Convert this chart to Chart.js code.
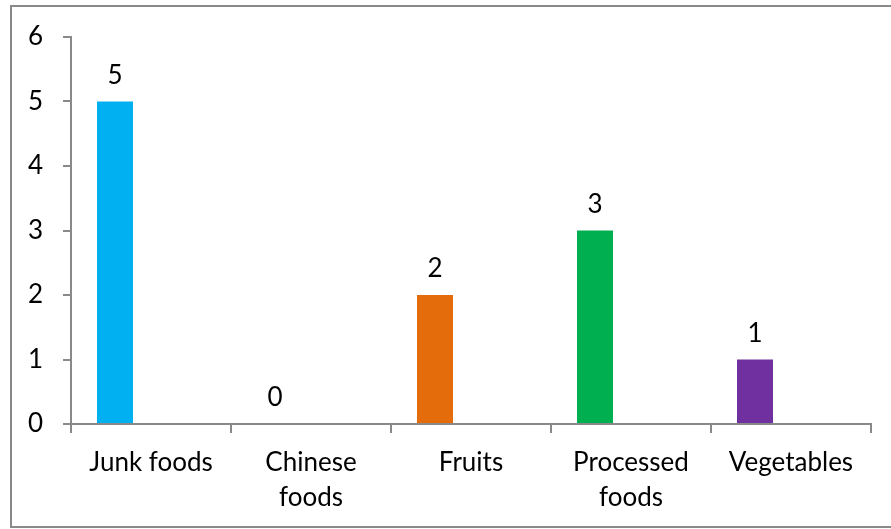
<!DOCTYPE html>
<html lang="en">
<head>
<meta charset="UTF-8">
<title>Foods</title>
<style>
  html, body { margin: 0; padding: 0; background: #fff; }
  #wrap { position: relative; width: 891px; height: 529px; overflow: hidden; }
  #frame { position: absolute; left: 10px; top: 5px; width: 900px; height: 523px; border: 2px solid #898989; box-sizing: border-box; }
  #chart { position: absolute; left: 0; top: 0; }
</style>
</head>
<body>
<div id="wrap">
  <div id="frame"></div>
  <canvas id="chart" width="891" height="529"></canvas>
</div>
<script src="https://cdn.jsdelivr.net/npm/chart.js"></script>
<script>
const categories = ['Junk foods', ['Chinese', 'foods'], 'Fruits', ['Processed', 'foods'], 'Vegetables'];
const counts = [5, 0, 2, 3, 1];
const barColors = ['#00B0F0', '#00B0F0', '#E46C0A', '#00B050', '#7030A0'];
const yTicks = [0, 1, 2, 3, 4, 5, 6];

const fontFamily = 'Lato, "Open Sans", sans-serif';
const fontSize = 26;
const axisGray = '#898989';

// writes each count just above its bar
const valueLabels = {
  id: 'valueLabels',
  afterDatasetsDraw(chart) {
    const ctx = chart.ctx;
    const meta = chart.getDatasetMeta(0);
    ctx.save();
    ctx.font = fontSize + 'px ' + fontFamily;
    ctx.fillStyle = '#000';
    ctx.textAlign = 'center';
    ctx.textBaseline = 'alphabetic';
    meta.data.forEach((bar, i) => {
      ctx.fillText(String(counts[i]), bar.x, bar.y - 18);
    });
    ctx.restore();
  }
};

new Chart(document.getElementById('chart'), {
  type: 'bar',
  data: {
    labels: categories,
    datasets: [
      { data: counts, backgroundColor: barColors, categoryPercentage: 0.9, barPercentage: 0.5 },
      { data: counts.map(() => null), categoryPercentage: 0.9, barPercentage: 0.5 }
    ]
  },
  options: {
    responsive: false,
    animation: false,
    layout: { padding: { left: 0, top: 37, right: 20, bottom: 0 } },
    plugins: {
      legend: { display: false },
      tooltip: { enabled: false }
    },
    scales: {
      x: {
        afterFit(scale) { scale.height = 105; },
        border: { color: axisGray, width: 2 },
        grid: { drawOnChartArea: false, drawTicks: true, tickLength: 9, color: axisGray, lineWidth: 2, offset: true },
        ticks: { color: '#000', font: { family: fontFamily, size: fontSize, lineHeight: 1.35 }, padding: 12, maxRotation: 0, autoSkip: false }
      },
      y: {
        min: 0,
        max: 6,
        afterFit(scale) { scale.width = 71; },
        afterBuildTicks(scale) { scale.ticks = yTicks.map(v => ({ value: v })); },
        border: { color: axisGray, width: 2 },
        grid: { drawOnChartArea: false, drawTicks: true, tickLength: 8, color: axisGray, lineWidth: 2 },
        ticks: { color: '#000', font: { family: fontFamily, size: fontSize }, padding: 20 }
      }
    }
  },
  plugins: [valueLabels]
});
</script>
</body>
</html>
